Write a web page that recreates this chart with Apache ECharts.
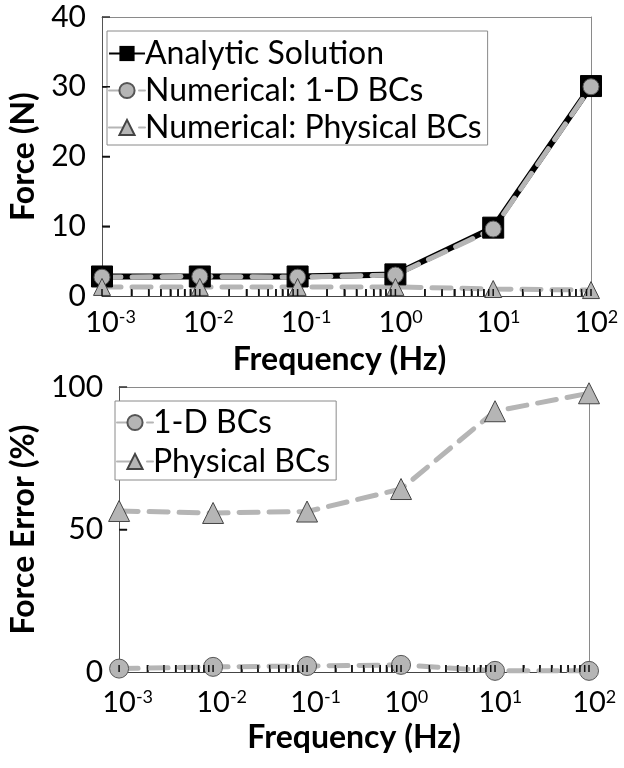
<!DOCTYPE html>
<html>
<head>
<meta charset="utf-8">
<script src="https://cdn.jsdelivr.net/npm/echarts@6/dist/echarts.min.js"></script>
<style>
  html, body { margin: 0; padding: 0; background: #fff; }
  #main { width: 624px; height: 768px; }
</style>
</head>
<body>
<div id="main"></div>
<script>
// frequency points (Hz)
var freq = [0.001, 0.01, 0.1, 1, 10, 100];
// top panel: force (N)
var forceAnalytic = [2.8, 2.8, 2.8, 3.1, 9.8, 30.1];
var force1D = [2.7, 2.8, 2.7, 3.0, 9.6, 30.0];
var forcePhys = [1.3, 1.3, 1.3, 1.3, 1.0, 0.85];
// bottom panel: force error (%)
var err1D = [1.2, 1.8, 2.1, 2.5, 0.4, 0.4];
var errPhys = [56.5, 55.8, 56.3, 64.2, 91.5, 97.8];
// x tick values: decades + minor 2..9
var majorTicks = [0.001, 0.01, 0.1, 1, 10, 100];
var minorTicks = [];
majorTicks.slice(0, 5).forEach(function (d) {
  for (var k = 2; k <= 9; k++) minorTicks.push(d * k);
});
var yTicksTop = [10, 20, 30];
var yTicksBottom = [50];

var FONT = 'Lato';
var GRAY = '#b5b5b5';
var BOX = '#8a8a8a';

function pairs(ys) {
  return freq.map(function (f, i) { return [f, ys[i]]; });
}

function expLabel(v) {
  var e = Math.round(Math.log10(v));
  return '{p|' + e + '}{b|10}{s|' + e + '}';
}

function xAxisCfg(gridIndex, margin, gap, namePad) {
  return {
    type: 'log', logBase: 10, gridIndex: gridIndex, position: 'bottom',
    min: 0.001, max: 100,
    name: 'Frequency (Hz)', nameLocation: 'middle', nameGap: gap,
    nameTextStyle: { fontFamily: FONT, fontWeight: 'bold', fontSize: 32, color: '#000', padding: namePad },
    axisLine: { onZero: false, lineStyle: { color: '#444', width: 1 } },
    axisTick: { show: true, inside: true, length: 7, customValues: majorTicks.concat(minorTicks), lineStyle: { color: '#222', width: 1.5 } },
    splitLine: { show: false },
    axisLabel: {
      customValues: majorTicks,
      margin: margin,
      formatter: expLabel,
      rich: {
        b: { fontFamily: FONT, fontSize: 29, color: '#000' },
        s: { fontFamily: FONT, fontSize: 18, color: '#000', verticalAlign: 'top' },
        p: { fontFamily: FONT, fontSize: 18, color: 'rgba(0,0,0,0)', verticalAlign: 'top' }
      }
    }
  };
}

// top edge of the plot frame
function xFrameCfg(gridIndex) {
  return {
    type: 'log', logBase: 10, gridIndex: gridIndex, position: 'top', min: 0.001, max: 100,
    axisLine: { show: true, onZero: false, lineStyle: { color: BOX } },
    axisTick: { show: false }, axisLabel: { show: false }, splitLine: { show: false }
  };
}

function yAxisCfg(gridIndex, name, max, interval, gap) {
  return {
    type: 'value', gridIndex: gridIndex, position: 'left', min: 0, max: max, interval: interval,
    name: name, nameLocation: 'middle', nameGap: gap,
    nameTextStyle: { fontFamily: FONT, fontWeight: 'bold', fontSize: 32, color: '#000' },
    axisLine: { show: true, onZero: false, lineStyle: { color: '#555' } },
    axisTick: { show: true, inside: true, length: 8, lineStyle: { color: '#333', width: 1.5 } },
    splitLine: { show: false },
    axisLabel: { fontFamily: FONT, fontSize: 30, color: '#000', margin: 16 }
  };
}

// right edge of the plot frame
function yFrameCfg(gridIndex, max) {
  return {
    type: 'value', gridIndex: gridIndex, position: 'right', min: 0, max: max,
    axisLine: { show: true, onZero: false, lineStyle: { color: BOX } },
    axisTick: { show: false }, axisLabel: { show: false }, splitLine: { show: false }
  };
}

// small inside ticks, placed through the axes' own scales
function tickSeries(axisIndex, yTicks) {
  var data = majorTicks.concat(minorTicks).map(function (v) { return [v, 0, 0]; })
    .concat(yTicks.map(function (v) { return [0.001, v, 1]; }));
  return {
    type: 'custom', name: 'ticks', xAxisIndex: axisIndex, yAxisIndex: axisIndex,
    silent: true, z: 10, clip: false,
    encode: { x: 0, y: 1 },
    data: data,
    renderItem: function (params, api) {
      var p = api.coord([api.value(0), api.value(1)]);
      var isY = api.value(2) === 1;
      return {
        type: 'line',
        shape: isY
          ? { x1: p[0], y1: p[1], x2: p[0] + 8, y2: p[1] }
          : { x1: p[0], y1: p[1], x2: p[0], y2: p[1] - 7 },
        style: { stroke: '#111', lineWidth: 1.5 }
      };
    }
  };
}

function dashed() {
  return { color: GRAY, width: 5, type: [19, 11], cap: 'round' };
}

function legendCfg(names, left, top, gap, pad) {
  return {
    data: names,
    orient: 'vertical', left: left, top: top,
    backgroundColor: '#fff', borderColor: BOX, borderWidth: 1,
    padding: pad, itemGap: gap, itemWidth: 36, itemHeight: 19,
    textStyle: { fontFamily: FONT, fontSize: 32, color: '#000', lineHeight: 35, padding: [0, 0, 0, -5] }
  };
}

var option = {
  animation: false,
  backgroundColor: '#fff',
  grid: [
    { left: 100, top: 17, right: 33, height: 279 },
    { left: 107, top: 387, right: 35, height: 285 }
  ],
  xAxis: [xAxisCfg(0, 12, 48, [0, 14, 0, 0]), xAxisCfg(1, 16, 50, 0), xFrameCfg(0), xFrameCfg(1)],
  yAxis: [yAxisCfg(0, 'Force (N)', 40, 10, 62), yAxisCfg(1, 'Force Error (%)', 100, 50, 64), yFrameCfg(0, 40), yFrameCfg(1, 100)],
  legend: [
    legendCfg(['Analytic Solution', 'Numerical: 1-D BCs', 'Numerical: Physical BCs'], 107, 31, 2, [5, 6, 0, 1]),
    legendCfg(['1-D BCs', 'Physical BCs'], 115, 401, 4, [4, 6, 1, 1])
  ],
  series: [
    tickSeries(0, yTicksTop),
    tickSeries(1, yTicksBottom),
    {
      name: 'Analytic Solution', type: 'line', xAxisIndex: 0, yAxisIndex: 0,
      data: pairs(forceAnalytic),
      symbol: 'rect', symbolSize: 21,
      lineStyle: { color: '#000', width: 6 },
      itemStyle: { color: '#000', borderColor: '#000' }
    },
    {
      name: 'Numerical: 1-D BCs', type: 'line', xAxisIndex: 0, yAxisIndex: 0,
      data: pairs(force1D),
      symbol: 'circle', symbolSize: 16,
      lineStyle: dashed(),
      itemStyle: { color: GRAY, borderColor: '#555', borderWidth: 1 }
    },
    {
      name: 'Numerical: Physical BCs', type: 'line', xAxisIndex: 0, yAxisIndex: 0,
      data: pairs(forcePhys),
      symbol: 'triangle', symbolSize: 17,
      lineStyle: dashed(),
      itemStyle: { color: GRAY, borderColor: '#444', borderWidth: 1 }
    },
    {
      name: '1-D BCs', type: 'line', xAxisIndex: 1, yAxisIndex: 1,
      data: pairs(err1D),
      symbol: 'circle', symbolSize: 19,
      lineStyle: dashed(),
      itemStyle: { color: GRAY, borderColor: '#555', borderWidth: 1 }
    },
    {
      name: 'Physical BCs', type: 'line', xAxisIndex: 1, yAxisIndex: 1,
      data: pairs(errPhys),
      symbol: 'triangle', symbolSize: 21,
      lineStyle: dashed(),
      itemStyle: { color: GRAY, borderColor: '#444', borderWidth: 1 }
    }
  ]
};

var chart = echarts.init(document.getElementById('main'), null, { renderer: 'canvas' });
chart.setOption(option);
</script>
</body>
</html>
